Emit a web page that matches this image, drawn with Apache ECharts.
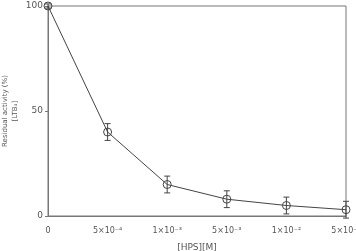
<!DOCTYPE html>
<html>
<head>
<meta charset="utf-8">
<script src="https://cdn.jsdelivr.net/npm/echarts@6/dist/echarts.min.js"></script>
<style>
  html, body { margin: 0; padding: 0; background: #fff; }
  #chart { width: 356px; height: 251px; }
</style>
</head>
<body>
<div id="chart"></div>
<script>
// 横轴浓度
var categories = ['0', '5×10⁻⁴', '1×10⁻³', '5×10⁻³', '1×10⁻²', '5×10⁻²'];
// 残余活性 (%)
var activity = [100, 40, 15, 8, 5, 3];
// 误差
var errors = [1, 4, 4, 4, 4, 4];
var yTicks = [0, 50, 100];

var myChart = echarts.init(document.getElementById('chart'));

var errData = activity.map(function (v, i) {
  return [i, v - errors[i], v + errors[i]];
});

myChart.setOption({
  animation: false,
  grid: {
    left: 48, right: 10, top: 6, bottom: 35,
    containLabel: false,
    outerBoundsMode: 'none',
    show: true, borderColor: '#777', borderWidth: 1
  },
  xAxis: {
    type: 'category',
    data: categories,
    boundaryGap: false,
    name: '[HPS][M]',
    nameLocation: 'middle',
    nameGap: 27,
    nameMoveOverlap: false,
    nameTextStyle: { color: '#555', fontSize: 9, fontFamily: 'DejaVu Sans' },
    axisLine: { lineStyle: { color: '#777' } },
    axisTick: { show: false },
    axisLabel: { color: '#555', fontSize: 8, fontFamily: 'DejaVu Sans', margin: 11 },
    splitLine: { show: false }
  },
  yAxis: {
    type: 'value',
    min: 0, max: 100, interval: 50,
    name: 'Residual activity (%)\n[LTB₄]',
    nameLocation: 'middle',
    nameGap: 28,
    nameMoveOverlap: false,
    nameTextStyle: { color: '#555', fontSize: 7, fontFamily: 'DejaVu Sans', lineHeight: 10 },
    axisLine: { show: true, lineStyle: { color: '#777' } },
    axisTick: { show: true, length: 3, lineStyle: { color: '#777' } },
    axisLabel: { color: '#555', fontSize: 9, fontFamily: 'DejaVu Sans', margin: 5 },
    splitLine: { show: false }
  },
  series: [
    {
      type: 'line',
      data: activity,
      symbol: 'circle',
      symbolSize: 8,
      lineStyle: { color: '#444', width: 1 },
      itemStyle: { color: 'rgba(255,255,255,0)', borderColor: '#444', borderWidth: 1 },
      z: 3
    },
    {
      type: 'custom',
      data: errData,
      z: 4,
      renderItem: function (params, api) {
        var x = api.value(0);
        var lo = api.coord([x, api.value(1)]);
        var hi = api.coord([x, api.value(2)]);
        var w = 3;
        var st = { stroke: '#444', lineWidth: 1 };
        return {
          type: 'group',
          children: [
            { type: 'line', shape: { x1: lo[0], y1: lo[1], x2: hi[0], y2: hi[1] }, style: st },
            { type: 'line', shape: { x1: lo[0] - w, y1: lo[1], x2: lo[0] + w, y2: lo[1] }, style: st },
            { type: 'line', shape: { x1: hi[0] - w, y1: hi[1], x2: hi[0] + w, y2: hi[1] }, style: st }
          ]
        };
      }
    }
  ]
});
</script>
</body>
</html>
